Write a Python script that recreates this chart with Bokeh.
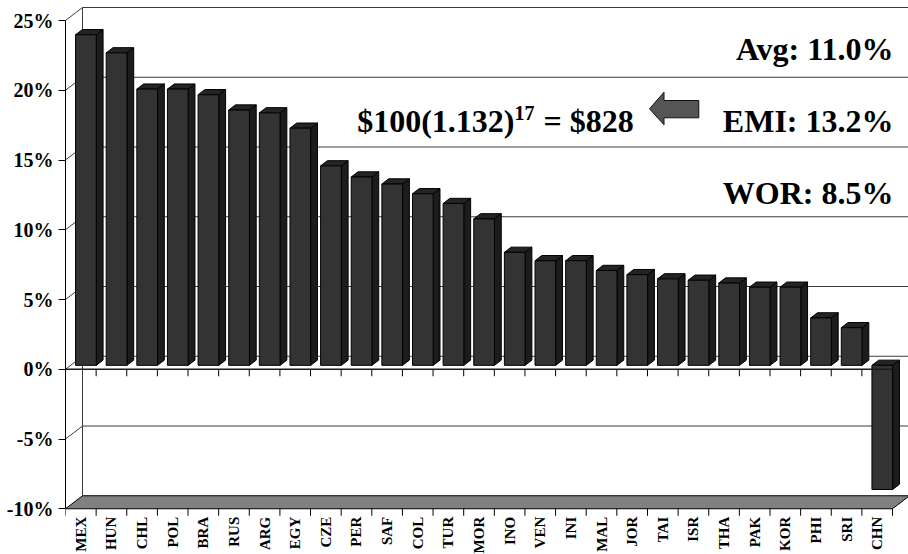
import math
from bokeh.plotting import figure
from bokeh.models import FixedTicker, PrintfTickFormatter, Range1d
from bokeh.core.properties import value
from bokeh.embed import file_html
from bokeh.resources import INLINE

# ---------------- data ----------------
countries = ["MEX", "HUN", "CHL", "POL", "BRA", "RUS", "ARG", "EGY", "CZE", "PER",
             "SAF", "COL", "TUR", "MOR", "INO", "VEN", "INI", "MAL", "JOR", "TAI",
             "ISR", "THA", "PAK", "KOR", "PHI", "SRI", "CHN"]
returns = [23.7, 22.4, 19.8, 19.8, 19.4, 18.3, 18.1, 17.0, 14.3, 13.5,
           13.0, 12.3, 11.6, 10.5, 8.1, 7.5, 7.5, 6.8, 6.5, 6.2,
           6.1, 5.9, 5.6, 5.6, 3.4, 2.7, -8.9]
y_ticks = [-10, -5, 0, 5, 10, 15, 20, 25]
avg_label = "Avg: 11.0%"
emi_label = "EMI: 13.2%"
wor_label = "WOR: 8.5%"
formula_base = "$100(1.132)"
formula_exp = "17"
formula_result = "= $828"

# ---------------- layout ----------------
W, H = 908, 554
LEFT = 65
C = 30.63          # px per category
K = 13.95          # px per percent
DX = 17.0 / C      # depth offset (categories)
DY = 13.0 / K      # depth offset (percent)
Y_TOP = 25 + DY + 7.0 / K
Y_BOT = Y_TOP - H / K
X_END = (W - LEFT) / C
n = len(countries)
F1, F2 = 0.3, 0.7  # bar depth (front / back fraction)
HW = 0.338         # bar half width (categories)
FAMILY = "'Liberation Serif', 'Times New Roman', 'DejaVu Serif', serif"
FONT = value(FAMILY)


def px_x(page_x):
    return (page_x - LEFT) / C


def px_y(page_y):
    return Y_TOP - page_y / K


p = figure(width=W, height=H, x_range=Range1d(0, X_END), y_range=Range1d(Y_BOT, Y_TOP),
           output_backend="svg", toolbar_location=None, x_axis_location=None,
           min_border_left=LEFT, min_border_right=0, min_border_top=0, min_border_bottom=0)
p.outline_line_color = None
p.grid.visible = False
p.background_fill_color = "white"
p.border_fill_color = "white"

ax = p.yaxis[0]
ax.ticker = FixedTicker(ticks=y_ticks)
ax.formatter = PrintfTickFormatter(format="%d%%")
ax.bounds = (min(y_ticks), max(y_ticks))
ax.major_tick_out = 7
ax.major_tick_in = 0
ax.minor_tick_out = 0
ax.minor_tick_in = 0
ax.major_label_standoff = 5
ax.major_label_text_font = FAMILY
ax.major_label_text_font_size = "20px"
ax.major_label_text_font_style = "bold"
ax.major_label_text_color = "black"
ax.axis_line_color = "black"
ax.major_tick_line_color = "black"

ymin, ymax = min(y_ticks), max(y_ticks)

# back wall gridlines and side-wall diagonals
gx, gy = [], []
for t in y_ticks:
    if t == ymin:
        continue
    gx.append([DX, X_END + 1])
    gy.append([t + DY, t + DY])
    gx.append([0, DX])
    gy.append([t, t + DY])
gx.append([DX, DX])
gy.append([ymin + DY, ymax + DY])
p.multi_line(gx, gy, line_color="#3c3c3c", line_width=1)

# floor
p.patch([0, n, n + DX, DX], [ymin, ymin, ymin + DY, ymin + DY],
        fill_color="#808080", line_color="black", line_width=1)

# category ticks at the floor edge and at 0%
tick_len = 7.0 / K
cats = list(range(n + 1))
p.segment(x0=cats, y0=[ymin] * len(cats), x1=cats, y1=[ymin - tick_len] * len(cats),
          line_color="black", line_width=1)
p.segment(x0=cats, y0=[0] * len(cats), x1=cats, y1=[-tick_len] * len(cats),
          line_color="black", line_width=1)

# 3D bars
fl, fr, fb, ft = [], [], [], []
top_x, top_y, side_x, side_y = [], [], [], []
for i, v in enumerate(returns):
    xl = i + 0.5 - HW
    xr = i + 0.5 + HW
    lo, hi = min(0, v), max(0, v)
    fl.append(xl + F1 * DX)
    fr.append(xr + F1 * DX)
    fb.append(lo + F1 * DY)
    ft.append(hi + F1 * DY)
    top_x.append([xl + F1 * DX, xr + F1 * DX, xr + F2 * DX, xl + F2 * DX])
    top_y.append([hi + F1 * DY, hi + F1 * DY, hi + F2 * DY, hi + F2 * DY])
    side_x.append([xr + F1 * DX, xr + F2 * DX, xr + F2 * DX, xr + F1 * DX])
    side_y.append([lo + F1 * DY, lo + F2 * DY, hi + F2 * DY, hi + F1 * DY])

p.patches(side_x, side_y, fill_color="#1c1c1c", line_color="black", line_width=1)
p.patches(top_x, top_y, fill_color="#242424", line_color="black", line_width=1)
p.quad(left=fl, right=fr, bottom=fb, top=ft, fill_color="#333333",
       line_color="black", line_width=1)

# front 0% line
p.segment(x0=[0], y0=[0], x1=[n], y1=[0], line_color="#1a1a1a", line_width=1.6)

# category labels
p.text(x=[i + 0.5 for i in range(n)], y=[ymin - 8.0 / K] * n, text=countries,
       angle=math.pi / 2, text_align="right", text_baseline="middle",
       text_font=FONT, text_font_size="15px", text_font_style="bold", text_color="black")

# annotation texts
big = dict(text_font=FONT, text_font_size="32px", text_font_style="bold",
           text_color="black", text_baseline="alphabetic")
p.text(x=[px_x(893)], y=[px_y(48)], text=[avg_label], text_align="right", **big)
p.text(x=[px_x(893)], y=[px_y(120)], text=[emi_label], text_align="right", **big)
p.text(x=[px_x(893)], y=[px_y(192)], text=[wor_label], text_align="right", **big)

sup_x = 514
p.text(x=[px_x(sup_x)], y=[px_y(120)], text=[formula_base], text_align="right", **big)
p.text(x=[px_x(sup_x)], y=[px_y(112)], text=[formula_exp], text_align="left",
       text_font=FONT, text_font_size="20px", text_font_style="bold",
       text_color="black", text_baseline="alphabetic")
p.text(x=[px_x(sup_x + 29)], y=[px_y(120)], text=[formula_result], text_align="left", **big)

# block arrow pointing left
arrow_px = [(649, 108.3), (663.5, 91.7), (663.5, 100), (698.3, 100),
            (698.3, 117.3), (663.5, 117.3), (663.5, 124.3)]
p.patch([px_x(a) for a, b in arrow_px], [px_y(b) for a, b in arrow_px],
        fill_color="#555555", line_color="#111111", line_width=1)

open("out.html", "w").write(file_html(p, INLINE))
